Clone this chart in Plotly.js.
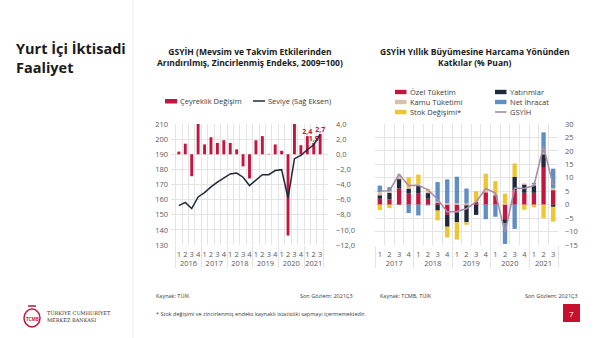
<!DOCTYPE html>
<html><head><meta charset="utf-8">
<script src="https://cdn.plot.ly/plotly-3.0.1.min.js"></script>
<style>html,body{margin:0;padding:0;background:#fff;}#chart{width:600px;height:338px;}</style>
</head><body><div id="chart"></div>
<script>
// ---------- Left chart data ----------
const yearsL = ['2016','2016','2016','2016','2017','2017','2017','2017','2018','2018','2018','2018','2019','2019','2019','2019','2020','2020','2020','2020','2021','2021','2021'];
const quartersL = ['1','2','3','4','1','2','3','4','1','2','3','4','1','2','3','4','1','2','3','4','1','2','3'];
const quarterlyChange = [0.35,1.4,-2.9,4.0,1.3,2.25,1.5,1.85,1.5,0.65,-1.6,-3.2,1.85,2.4,0.05,1.3,0.45,-10.75,15.1,1.2,2.4,1.5,2.7];
const levelIndex = [156.0,158.2,154.1,161.8,164.6,168.4,171.5,174.3,177.0,177.6,174.8,169.3,172.6,176.5,176.5,179.2,179.8,161.1,187.1,189.3,193.0,196.3,203.0];
const labeledCount = 3; // last quarters labelled

// ---------- Right chart data ----------
const yearsR = ['2017','2017','2017','2017','2018','2018','2018','2018','2019','2019','2019','2019','2020','2020','2020','2020','2021','2021','2021'];
const quartersR = ['1','2','3','4','1','2','3','4','1','2','3','4','1','2','3','4','1','2','3'];
const ozelTuketim  = [2.2,1.9,6.0,4.1,4.1,2.2,0.8,-3.8,-3.0,-0.3,1.0,4.6,3.5,-5.4,5.4,4.4,4.4,14.0,5.4];
const yatirimlar   = [1.3,2.5,3.5,1.9,3.0,2.1,-2.2,-4.4,-3.5,-6.2,-3.8,0,0,-1.6,4.9,3.1,2.8,4.75,-0.8];
const kamuTuketimi = [1.2,0.6,1.9,0.5,0.5,0.6,0.3,0.5,0.5,0.4,0.3,0.5,0.5,0.3,0,0.4,0.4,0.6,0.8];
const netIhracat   = [2.4,1.5,0,-3.1,-4.0,-0.3,7.3,8.9,9.9,5.6,0,-5.4,-4.5,-7.6,-9.0,0,0.5,7.55,7.2];
const stokDegisimi = [-2.0,-1.3,0,3.7,3.6,1.0,-3.6,-4.0,-6.5,-1.0,3.7,6.4,4.75,3.8,5.0,-1.9,-1.0,-5.0,-5.5];
const gsyih        = [5.1,5.2,11.3,7.1,7.2,5.5,2.0,-2.7,-2.5,-1.5,1.0,6.0,4.3,-10.3,6.2,6.0,7.1,21.7,7.1];

// ---------- Styles ----------
const C = {red:'#C4153F', navy:'#1E2A3A', beige:'#D6C2A6', blue:'#5F8DC6', yellow:'#F1C530', mauve:'#A68DA8', grid:'#e4e4e4', tick:'#595959', text:'#3a3a3a'};
const FONT = 'Open Sans, Noto Sans, sans-serif';
const W=600, H=338;
const px = x => x/W, py = y => 1 - y/H;
const domY = [py(245), py(124)];

const xL = [yearsL, quartersL], xR = [yearsR, quartersR];
const lblText = quarterlyChange.map((v,i)=> i >= quarterlyChange.length - labeledCount ? v.toFixed(1).replace('.',',') : '');
const lblY = quarterlyChange.map((v,i)=> i >= quarterlyChange.length - labeledCount ? v : null);

const traces = [
  {type:'bar', x:xL, y:quarterlyChange, xaxis:'x', yaxis:'y', marker:{color:C.red}, name:'Çeyreklik Değişim', hoverinfo:'skip'},
  {type:'scatter', mode:'text', x:xL, y:lblY, text:lblText, textposition:'top center', cliponaxis:false,
   textfont:{family:FONT, size:7, color:C.red, weight:700}, xaxis:'x', yaxis:'y', hoverinfo:'skip'},
  {type:'scatter', mode:'lines', x:xL, y:levelIndex, xaxis:'x', yaxis:'y2', line:{color:C.navy, width:1.5}, name:'Seviye (Sağ Eksen)'},
  {type:'bar', x:xR, y:ozelTuketim, xaxis:'x2', yaxis:'y3', marker:{color:C.red}, name:'Özel Tüketim'},
  {type:'bar', x:xR, y:yatirimlar, xaxis:'x2', yaxis:'y3', marker:{color:C.navy}, name:'Yatırımlar'},
  {type:'bar', x:xR, y:kamuTuketimi, xaxis:'x2', yaxis:'y3', marker:{color:C.beige}, name:'Kamu Tüketimi'},
  {type:'bar', x:xR, y:netIhracat, xaxis:'x2', yaxis:'y3', marker:{color:C.blue}, name:'Net İhracat'},
  {type:'bar', x:xR, y:stokDegisimi, xaxis:'x2', yaxis:'y3', marker:{color:C.yellow}, name:'Stok Değişimi*'},
  {type:'scatter', mode:'lines', x:xR, y:gsyih, xaxis:'x2', yaxis:'y3', line:{color:C.mauve, width:1.6}, name:'GSYİH'}
];

const tickfont = {family:FONT, size:7.5, color:C.tick};
const xBase = {type:'multicategory', showgrid:true, gridcolor:C.grid, tickson:'boundaries', ticks:'', showline:false,
  tickfont:tickfont, tickangle:0, nticks:60, showdividers:true, dividercolor:C.grid, dividerwidth:1, zeroline:false,
  ticklabelstandoff:3, fixedrange:true};

const annotations = [];
const shapes = [];
function txt(t, x, y, size, opts={}) {
  annotations.push(Object.assign({text:t, x:px(x), y:py(y), xref:'paper', yref:'paper', showarrow:false,
    xanchor:'left', yanchor:'middle', font:{family:FONT, size:size, color:C.text}}, opts));
}
// sidebar title
txt('Yurt İçi İktisadi<br>Faaliyet', 14, 58, 14.5, {align:'left', font:{family:FONT, size:14.5, color:'#1a1a1a', weight:700}});
// chart titles
txt('GSYİH (Mevsim ve Takvim Etkilerinden<br>Arındırılmış, Zincirlenmiş Endeks, 2009=100)', 249.5, 57, 8.5,
  {xanchor:'center', align:'center', font:{family:FONT, size:8.5, color:'#1a1a1a', weight:700}});
txt('GSYİH Yıllık Büyümesine Harcama Yönünden<br>Katkılar (% Puan)', 475, 57, 8.5,
  {xanchor:'center', align:'center', font:{family:FONT, size:8.5, color:'#1a1a1a', weight:700}});

// left legend
shapes.push({type:'rect', xref:'paper', yref:'paper', x0:px(165), x1:px(177), y0:py(103.5), y1:py(99), fillcolor:C.red, line:{width:0}});
txt('Çeyreklik Değişim', 178, 101, 7.5);
shapes.push({type:'line', xref:'paper', yref:'paper', x0:px(253), x1:px(265), y0:py(101), y1:py(101), line:{color:C.navy, width:1.5}});
txt('Seviye (Sağ Eksen)', 266, 101, 7.5);

// right legend
const legR = [
  ['Özel Tüketim', C.red, 395, 92, 'rect'], ['Yatırımlar', C.navy, 495, 92, 'rect'],
  ['Kamu Tüketimi', C.beige, 395, 102, 'rect'], ['Net İhracat', C.blue, 495, 102, 'rect'],
  ['Stok Değişimi*', C.yellow, 395, 112, 'rect'], ['GSYİH', C.mauve, 495, 112, 'line']
];
legR.forEach(([name, col, x, y, kind]) => {
  if (kind === 'rect') shapes.push({type:'rect', xref:'paper', yref:'paper', x0:px(x), x1:px(x+11.5), y0:py(y+2.2), y1:py(y-2.2), fillcolor:col, line:{width:0}});
  else shapes.push({type:'line', xref:'paper', yref:'paper', x0:px(x), x1:px(x+11.5), y0:py(y), y1:py(y), line:{color:col, width:1.6}});
  txt(name, x + 12.5, y, 7.5);
});

// footer
txt('Kaynak: TÜİK', 154, 296, 5.5);
txt('Son Gözlem: 2021Ç3', 355, 296, 5.5, {xanchor:'right'});
txt('Kaynak: TCMB, TÜİK', 378, 296, 5.5);
txt('Son Gözlem: 2021Ç3', 580, 296, 5.5, {xanchor:'right'});
txt('* Stok değişimi ve zincirlenmiş endeks kaynaklı istatistiki sapmayı içermemektedir.', 154, 313.5, 5.5);
// logo
shapes.push({type:'circle', xref:'paper', yref:'paper', x0:px(24), x1:px(40), y0:py(327), y1:py(309), line:{color:C.red, width:1.5}});
shapes.push({type:'line', xref:'paper', yref:'paper', x0:px(28), x1:px(36), y0:py(306), y1:py(306), line:{color:C.red, width:1.5}});
txt('TCMB', 32, 318.5, 4.5, {xanchor:'center', font:{family:FONT, size:4.5, color:C.red, weight:700}});
txt('TÜRKİYE CUMHURİYET', 45, 313, 5, {font:{family:'DejaVu Serif, serif', size:5, color:'#333'}});
txt('MERKEZ BANKASI', 45, 320, 5, {font:{family:'DejaVu Serif, serif', size:5, color:'#333'}});
// page number
shapes.push({type:'rect', xref:'paper', yref:'paper', x0:px(563), x1:px(580), y0:py(322), y1:py(304), fillcolor:'#C8102E', line:{width:0}});
txt('7', 571.5, 313, 8, {xanchor:'center', font:{family:FONT, size:8, color:'#fff'}});
// sidebar separator
shapes.push({type:'line', xref:'paper', yref:'paper', x0:px(133), x1:px(133), y0:0, y1:1, line:{color:'#efefef', width:1}});

const layout = {
  width:W, height:H, margin:{l:0, r:0, t:0, b:0}, paper_bgcolor:'#fff', plot_bgcolor:'#fff',
  showlegend:false, separators:',.', barmode:'relative', bargap:0.55,
  font:{family:FONT, color:C.text},
  xaxis: Object.assign({}, xBase, {domain:[px(171), px(328)], anchor:'y'}),
  yaxis: {domain:domY, anchor:'x', side:'right', range:[-12,4], dtick:2, tickformat:'.1f', showgrid:true, gridcolor:C.grid,
    zeroline:false, ticks:'', tickfont:tickfont, ticklabelstandoff:7, fixedrange:true},
  yaxis2: {overlaying:'y', anchor:'x', side:'left', range:[130,210], dtick:10, showgrid:false, zeroline:false, ticks:'',
    tickfont:tickfont, ticklabelstandoff:2, fixedrange:true},
  xaxis2: Object.assign({}, xBase, {domain:[px(375), px(558)], anchor:'y3'}),
  yaxis3: {domain:domY, anchor:'x2', side:'right', range:[-15,30], dtick:5, showgrid:true, gridcolor:C.grid, zeroline:false,
    ticks:'', tickfont:tickfont, ticklabelstandoff:6, fixedrange:true},
  annotations: annotations, shapes: shapes
};
Plotly.newPlot('chart', traces, layout, {staticPlot:true, displayModeBar:false});
</script></body></html>
